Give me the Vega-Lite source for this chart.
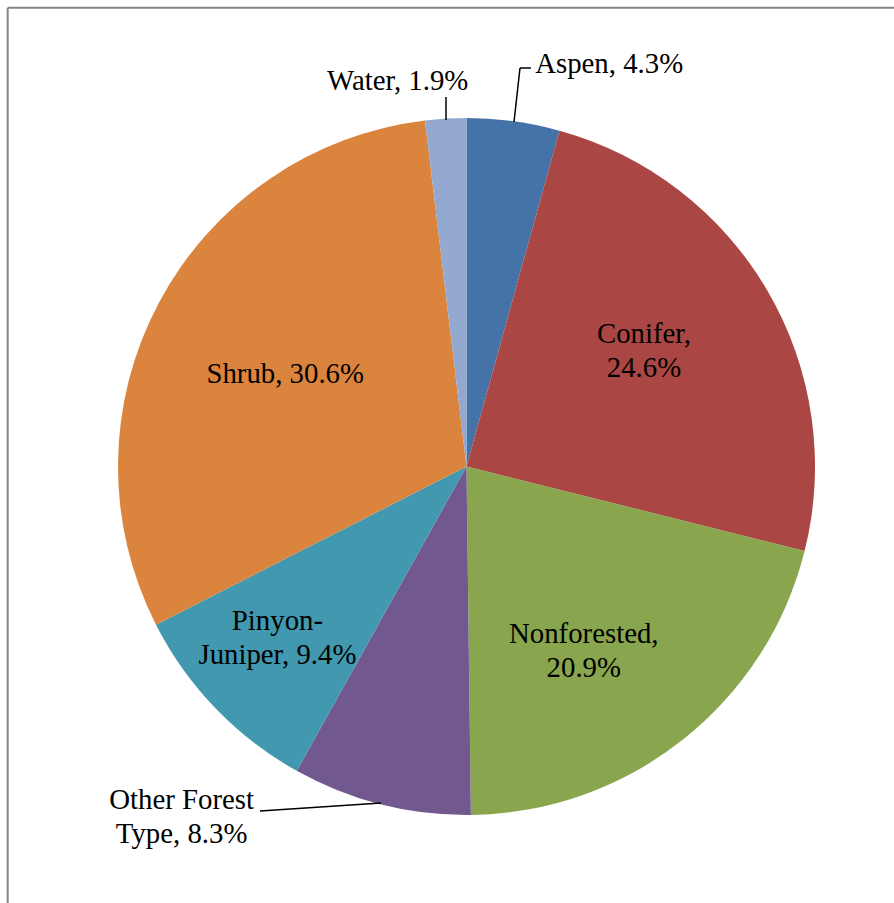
{
  "$schema": "https://vega.github.io/schema/vega-lite/v6.json",
  "width": 894,
  "height": 903,
  "autosize": "none",
  "padding": 0,
  "background": "white",
  "config": {
    "view": {"stroke": null},
    "text": {"font": "Liberation Serif", "fontSize": 28.8, "color": "#000000", "lineBreak": "\n", "lineHeight": 34, "baseline": "alphabetic"}
  },
  "datasets": {
    "slices": [
      {"type": "Aspen", "value": 4.3, "label": "Aspen, 4.3%"},
      {"type": "Conifer", "value": 24.6, "label": "Conifer,\n24.6%"},
      {"type": "Nonforested", "value": 20.9, "label": "Nonforested,\n20.9%"},
      {"type": "Other Forest Type", "value": 8.3, "label": "Other Forest\nType, 8.3%"},
      {"type": "Pinyon-Juniper", "value": 9.4, "label": "Pinyon-\nJuniper, 9.4%"},
      {"type": "Shrub", "value": 30.6, "label": "Shrub, 30.6%"},
      {"type": "Water", "value": 1.9, "label": "Water, 1.9%"}
    ]
  },
  "data": {"name": "slices"},
  "encoding": {
    "x": {"datum": 0, "type": "quantitative", "scale": {"domain": [-1.33859, 1.22669], "nice": false, "zero": false}, "axis": null},
    "y": {"datum": 0, "type": "quantitative", "scale": {"domain": [-1.25251, 1.33859], "nice": false, "zero": false}, "axis": null}
  },
  "layer": [
    {
      "mark": {"type": "arc", "outerRadius": 348.5, "innerRadius": 0},
      "encoding": {
        "theta": {"field": "value", "type": "quantitative", "stack": true},
        "order": {"field": "type", "sort": "ascending"},
        "color": {
          "field": "type",
          "type": "nominal",
          "legend": null,
          "scale": {
            "domain": ["Aspen", "Conifer", "Nonforested", "Other Forest Type", "Pinyon-Juniper", "Shrub", "Water"],
            "range": ["#4572A7", "#AA4643", "#89A54E", "#71588F", "#4198AF", "#DB843D", "#93A9CF"]
          }
        }
      }
    },
    {
      "mark": {"type": "text", "radius": 398.5, "align": "left", "dx": 15, "dy": 1},
      "encoding": {
        "theta": {"field": "value", "type": "quantitative", "stack": true},
        "order": {"field": "type", "sort": "ascending"},
        "text": {"condition": {"test": "datum.type === 'Aspen'", "field": "label"}, "value": ""}
      }
    },
    {
      "mark": {"type": "text", "radius": 398.5, "align": "center", "dx": -45, "dy": 21},
      "encoding": {
        "theta": {"field": "value", "type": "quantitative", "stack": true},
        "order": {"field": "type", "sort": "ascending"},
        "text": {"condition": {"test": "datum.type === 'Water'", "field": "label"}, "value": ""}
      }
    },
    {
      "mark": {"type": "text", "radius": 210, "align": "center", "dx": -4, "dy": -18},
      "encoding": {
        "theta": {"field": "value", "type": "quantitative", "stack": true},
        "order": {"field": "type", "sort": "ascending"},
        "text": {"condition": {"test": "datum.type === 'Conifer'", "field": "label"}, "value": ""}
      }
    },
    {
      "mark": {"type": "text", "radius": 210, "align": "center", "dx": -13, "dy": 12},
      "encoding": {
        "theta": {"field": "value", "type": "quantitative", "stack": true},
        "order": {"field": "type", "sort": "ascending"},
        "text": {"condition": {"test": "datum.type === 'Nonforested'", "field": "label"}, "value": ""}
      }
    },
    {
      "mark": {"type": "text", "radius": 398.5, "align": "center", "dx": -187, "dy": -44},
      "encoding": {
        "theta": {"field": "value", "type": "quantitative", "stack": true},
        "order": {"field": "type", "sort": "ascending"},
        "text": {"condition": {"test": "datum.type === 'Other Forest Type'", "field": "label"}, "value": ""}
      }
    },
    {
      "mark": {"type": "text", "radius": 250, "align": "center", "dx": -9, "dy": -10},
      "encoding": {
        "theta": {"field": "value", "type": "quantitative", "stack": true},
        "order": {"field": "type", "sort": "ascending"},
        "text": {"condition": {"test": "datum.type === 'Pinyon-Juniper'", "field": "label"}, "value": ""}
      }
    },
    {
      "mark": {"type": "text", "radius": 210, "align": "center", "dx": 4, "dy": 15},
      "encoding": {
        "theta": {"field": "value", "type": "quantitative", "stack": true},
        "order": {"field": "type", "sort": "ascending"},
        "text": {"condition": {"test": "datum.type === 'Shrub'", "field": "label"}, "value": ""}
      }
    },
    {
      "data": {"values": [{}]},
      "mark": {"type": "rule", "color": "#000000", "strokeWidth": 1.5},
      "encoding": {"x": {"datum": -0.0588}, "y": {"datum": 0.9943}, "y2": {"datum": 1.0603}}
    },
    {
      "data": {"values": [{}]},
      "mark": {"type": "rule", "color": "#000000", "strokeWidth": 1.5},
      "encoding": {"x": {"datum": 0.1363}, "y": {"datum": 0.9885}, "x2": {"datum": 0.1535}, "y2": {"datum": 1.1435}}
    },
    {
      "data": {"values": [{}]},
      "mark": {"type": "rule", "color": "#000000", "strokeWidth": 1.5},
      "encoding": {"x": {"datum": 0.1535}, "y": {"datum": 1.1435}, "x2": {"datum": 0.1851}, "y2": {"datum": 1.1435}}
    },
    {
      "data": {"values": [{}]},
      "mark": {"type": "rule", "color": "#000000", "strokeWidth": 1.5},
      "encoding": {"x": {"datum": -0.2453}, "y": {"datum": -0.9656}, "x2": {"datum": -0.5925}, "y2": {"datum": -0.9885}}
    },
    {
      "data": {"values": [{}]},
      "mark": {"type": "rule", "color": "#868686", "strokeWidth": 2},
      "encoding": {"x": {"datum": -1.3165}, "y": {"datum": 1.3165}, "y2": {"datum": -1.25251}}
    },
    {
      "data": {"values": [{}]},
      "mark": {"type": "rule", "color": "#868686", "strokeWidth": 2},
      "encoding": {"x": {"datum": -1.3165}, "y": {"datum": 1.3165}, "x2": {"datum": 1.22669}}
    }
  ]
}
